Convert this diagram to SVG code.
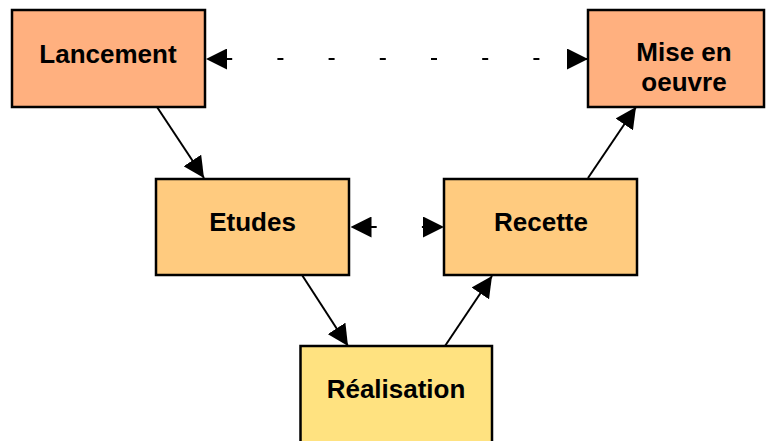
<svg xmlns="http://www.w3.org/2000/svg" width="768" height="441" viewBox="0 0 768 441">
  <style>
    .box { stroke: #000; stroke-width: 2.5; }
    .phase1 { fill: #FFB07F; }
    .phase2 { fill: #FFCB7F; }
    .phase3 { fill: #FFE280; }
    .label { font-family: "Liberation Sans", Arial, sans-serif; font-weight: bold; font-size: 26px; fill: #000; text-anchor: middle; }
    .link { stroke: #000; stroke-width: 2; fill: none; }
    .dash { stroke-dasharray: 6 45.2; stroke-dashoffset: 31; }
  </style>
  <defs>
    <marker id="arrow" viewBox="0 0 21 21" refX="21" refY="10.5" markerWidth="21" markerHeight="21" markerUnits="userSpaceOnUse" orient="auto-start-reverse">
      <path d="M0,0 L21,10.5 L0,21 z" fill="#000"/>
    </marker>
  </defs>

  <g id="lancement">
    <rect class="box phase1" x="12" y="10" width="193" height="97"/>
    <text class="label" x="108" y="63">Lancement</text>
  </g>
  <g id="mise-en-oeuvre">
    <rect class="box phase1" x="588" y="10" width="176" height="97"/>
    <text class="label" x="684" y="61">Mise en</text>
    <text class="label" x="684" y="91">oeuvre</text>
  </g>
  <g id="etudes">
    <rect class="box phase2" x="156" y="179" width="193" height="96"/>
    <text class="label" x="252.5" y="231">Etudes</text>
  </g>
  <g id="recette">
    <rect class="box phase2" x="444" y="179" width="193" height="96"/>
    <text class="label" x="541" y="231">Recette</text>
  </g>
  <g id="realisation">
    <rect class="box phase3" x="300.5" y="346" width="191.5" height="100"/>
    <text class="label" x="396" y="398">Réalisation</text>
  </g>

  <g id="connectors">
    <line class="link" x1="157" y1="107" x2="204" y2="178" marker-end="url(#arrow)"/>
    <line class="link" x1="302" y1="275" x2="348" y2="346" marker-end="url(#arrow)"/>
    <line class="link" x1="445" y1="346" x2="492" y2="276" marker-end="url(#arrow)"/>
    <line class="link" x1="588" y1="178" x2="636" y2="107" marker-end="url(#arrow)"/>
    <line class="link dash" x1="206" y1="59" x2="588" y2="59" marker-start="url(#arrow)" marker-end="url(#arrow)"/>
    <line class="link dash" x1="350.5" y1="227" x2="444" y2="227" marker-start="url(#arrow)" marker-end="url(#arrow)"/>
  </g>
</svg>
